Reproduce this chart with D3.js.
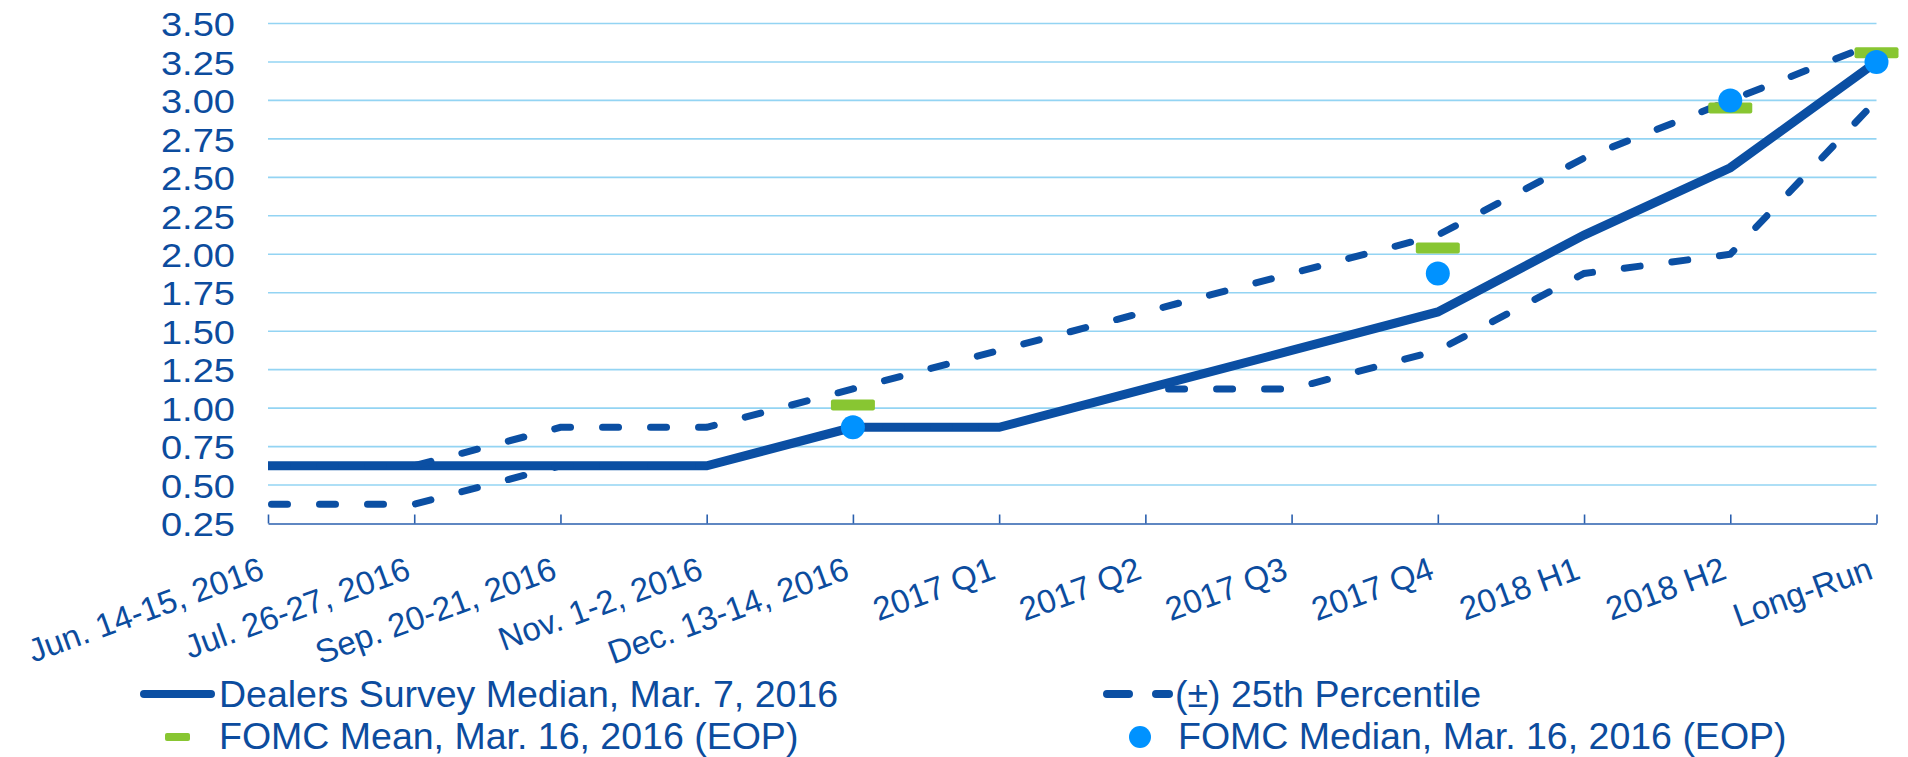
<!DOCTYPE html>
<html>
<head>
<meta charset="utf-8">
<script src="https://cdn.jsdelivr.net/npm/d3@7"></script>
<style>
  body { margin: 0; background: #fff; }
  svg { display: block; font-family: Arial, "Liberation Sans", sans-serif; }
</style>
</head>
<body>
<div id="chart"></div>
<script>
var categories = ["Jun. 14-15, 2016", "Jul. 26-27, 2016", "Sep. 20-21, 2016", "Nov. 1-2, 2016",
  "Dec. 13-14, 2016", "2017 Q1", "2017 Q2", "2017 Q3", "2017 Q4", "2018 H1", "2018 H2", "Long-Run"];

var dealersMedian = [0.625, 0.625, 0.625, 0.625, 0.875, 0.875, 1.125, 1.375, 1.625, 2.125, 2.5625, 3.25];
var upper25 = [0.625, 0.625, 0.875, 0.875, 1.125, 1.375, 1.625, 1.875, 2.125, 2.625, 3.0, 3.375];
var lower25 = [0.375, 0.375, 0.625, 0.625, 0.875, 0.875, 1.125, 1.125, 1.375, 1.875, 2.0, 3.0];
var fomcMean = [null, null, null, null, 1.02, null, null, null, 2.04, null, 2.95, 3.31];
var fomcMedian = [null, null, null, null, 0.875, null, null, null, 1.875, null, 3.0, 3.25];

var yTicks = [0.25, 0.5, 0.75, 1.0, 1.25, 1.5, 1.75, 2.0, 2.25, 2.5, 2.75, 3.0, 3.25, 3.5];

var legendItems = ["Dealers Survey Median, Mar. 7, 2016", "(\u00b1) 25th Percentile",
  "FOMC Mean, Mar. 16, 2016 (EOP)", "FOMC Median, Mar. 16, 2016 (EOP)"];

var W = 1908, H = 757;
var plotLeft = 268, plotRight = 1876.5, plotTop = 23.5, plotBottom = 523.5;

var navy = "#0b4fa3", textBlue = "#0c4c9e", gridBlue = "#93d4f3",
    dotBlue = "#0092ff", green = "#88c632";

var svg = d3.select("#chart").append("svg")
  .attr("width", W)
  .attr("height", H);

var x = d3.scalePoint()
  .domain(categories)
  .range([plotLeft, plotRight]);

var y = d3.scaleLinear()
  .domain([0.25, 3.5])
  .range([plotBottom, plotTop]);

// horizontal grid
svg.append("g")
  .selectAll("line")
  .data(yTicks.slice(1))
  .enter().append("line")
    .attr("x1", plotLeft)
    .attr("x2", plotRight)
    .attr("y1", function(d) { return y(d); })
    .attr("y2", function(d) { return y(d); })
    .attr("stroke", gridBlue)
    .attr("stroke-width", 1.6);

// y axis labels only (no axis line), text a bit wide like the original
var yAxis = svg.append("g")
  .attr("transform", "translate(" + plotLeft + ",0)")
  .call(d3.axisLeft(y).tickValues(yTicks).tickFormat(d3.format(".2f")).tickSize(0));
yAxis.select(".domain").remove();
yAxis.selectAll("text")
  .attr("fill", textBlue)
  .attr("font-size", 34)
  .attr("font-family", "Arial, 'Liberation Sans', sans-serif")
  .attr("x", -33 / 1.12)
  .attr("dy", "0.36em")
  .attr("transform", "scale(1.12,1)");

// x axis: line with ticks pointing up
var xAxis = svg.append("g")
  .attr("transform", "translate(0," + plotBottom + ")")
  .call(d3.axisBottom(x).tickSize(-9).tickSizeOuter(0).tickFormat(""));
xAxis.select(".domain").attr("stroke", "#2a5fae").attr("stroke-width", 1.6);
xAxis.selectAll(".tick line").attr("stroke", "#2a5fae").attr("stroke-width", 1.6);

svg.append("g")
  .selectAll("text")
  .data(categories)
  .enter().append("text")
    .attr("transform", function(d) { return "translate(" + (x(d) - 2) + ",578) rotate(-20)"; })
    .attr("text-anchor", "end")
    .attr("fill", textBlue)
    .attr("font-size", 33)
    .text(function(d) { return d; });

var line = d3.line()
  .x(function(d, i) { return x(categories[i]); })
  .y(function(d) { return y(d); });

svg.append("path")
  .datum(dealersMedian)
  .attr("d", line)
  .attr("fill", "none")
  .attr("stroke", navy)
  .attr("stroke-width", 9);

[upper25, lower25].forEach(function(s) {
  svg.append("path")
    .datum(s)
    .attr("d", line)
    .attr("fill", "none")
    .attr("stroke", navy)
    .attr("stroke-width", 7)
    .attr("stroke-linecap", "round")
    .attr("stroke-dasharray", "16,32")
    .attr("stroke-dashoffset", -3.5);
});

// FOMC mean markers
svg.append("g")
  .selectAll("rect")
  .data(fomcMean.map(function(v, i) { return {c: categories[i], v: v}; }).filter(function(d) { return d.v != null; }))
  .enter().append("rect")
    .attr("x", function(d) { return x(d.c) - 22; })
    .attr("y", function(d) { return y(d.v) - 5.5; })
    .attr("width", 44)
    .attr("height", 11)
    .attr("rx", 2)
    .attr("fill", green);

// FOMC median dots
svg.append("g")
  .selectAll("circle")
  .data(fomcMedian.map(function(v, i) { return {c: categories[i], v: v}; }).filter(function(d) { return d.v != null; }))
  .enter().append("circle")
    .attr("cx", function(d) { return x(d.c); })
    .attr("cy", function(d) { return y(d.v); })
    .attr("r", 12)
    .attr("fill", dotBlue);

// legend
var legend = svg.append("g").attr("font-size", 37.5).attr("fill", textBlue);

legend.append("line")
  .attr("x1", 144).attr("x2", 211).attr("y1", 694).attr("y2", 694)
  .attr("stroke", navy).attr("stroke-width", 8).attr("stroke-linecap", "round");
legend.append("text").attr("x", 219).attr("y", 707).text(legendItems[0]);

legend.append("line")
  .attr("x1", 1107).attr("x2", 1169).attr("y1", 694).attr("y2", 694)
  .attr("stroke", navy).attr("stroke-width", 8).attr("stroke-linecap", "round")
  .attr("stroke-dasharray", "22,27");
legend.append("text").attr("x", 1175).attr("y", 707).text(legendItems[1]);

legend.append("rect")
  .attr("x", 165).attr("y", 733).attr("width", 25).attr("height", 8).attr("rx", 2)
  .attr("fill", green);
legend.append("text").attr("x", 219).attr("y", 749).text(legendItems[2]);

legend.append("circle")
  .attr("cx", 1140).attr("cy", 737).attr("r", 11)
  .attr("fill", dotBlue);
legend.append("text").attr("x", 1178).attr("y", 749).text(legendItems[3]);
</script>
</body>
</html>
